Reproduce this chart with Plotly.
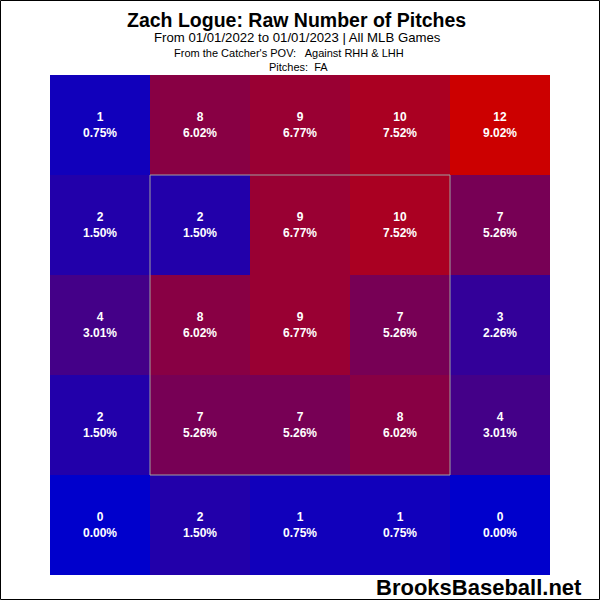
import plotly.graph_objects as go

counts = [
    [1, 8, 9, 10, 12],
    [2, 2, 9, 10, 7],
    [4, 8, 9, 7, 3],
    [2, 7, 7, 8, 4],
    [0, 2, 1, 1, 0],
]
pcts = [
    ["0.75%", "6.02%", "6.77%", "7.52%", "9.02%"],
    ["1.50%", "1.50%", "6.77%", "7.52%", "5.26%"],
    ["3.01%", "6.02%", "6.77%", "5.26%", "2.26%"],
    ["1.50%", "5.26%", "5.26%", "6.02%", "3.01%"],
    ["0.00%", "1.50%", "0.75%", "0.75%", "0.00%"],
]
cols = [0, 1, 2, 3, 4]
rows = [0, 1, 2, 3, 4]

title = "Zach Logue: Raw Number of Pitches"
sub1 = "From 01/01/2022 to 01/01/2023 | All MLB Games"
sub2 = "From the Catcher's POV:   Against RHH & LHH"
sub3 = "Pitches:  FA"

labels = [[f"{c}<br>{p}" for c, p in zip(rc, rp)] for rc, rp in zip(counts, pcts)]
font = "Liberation Sans, Arial"

fig = go.Figure(go.Heatmap(
    z=counts, x=cols, y=rows, text=labels, texttemplate="%{text}",
    textfont=dict(family=font, size=12, color="white", weight="bold"),
    colorscale=[[0, "#0000CC"], [1, "#CC0000"]], zmin=0, zmax=12,
    showscale=False, hoverinfo="skip", xgap=0, ygap=0,
))

W, H = 600, 600
L, R, T, B = 50, 50, 75, 25
plot_w = W - L - R
plot_h = H - T - B

def px_x(x):
    return (x - L) / plot_w

def px_y(y):
    return (H - B - y) / plot_h

fig.add_shape(type="rect", x0=0.5, x1=3.5, y0=0.5, y1=3.5, xref="x", yref="y",
              line=dict(color="#A0A0A0", width=1))
fig.add_shape(type="rect", x0=px_x(0.5), x1=px_x(599.5), y0=px_y(599.5), y1=px_y(0.5),
              xref="paper", yref="paper", line=dict(color="black", width=1), layer="above")

annots = [
    (f"<b>{title}</b>", 296, 20, 19.5),
    (sub1, 297, 38, 13.2),
    (sub2, 289, 53, 11),
    (sub3, 298, 67, 11),
]
for txt, xp, yp, size in annots:
    fig.add_annotation(text=txt, x=px_x(xp), y=px_y(yp), xref="paper", yref="paper",
                       showarrow=False, font=dict(family=font, size=size, color="black"),
                       xanchor="center", yanchor="middle")
fig.add_annotation(text="<b>BrooksBaseball.net</b>", x=px_x(584), y=px_y(587),
                   xref="paper", yref="paper", showarrow=False,
                   font=dict(family=font, size=22, color="black"),
                   xanchor="right", yanchor="middle")

fig.update_layout(
    width=W, height=H, margin=dict(l=L, r=R, t=T, b=B),
    paper_bgcolor="white", plot_bgcolor="white",
    xaxis=dict(visible=False, range=[-0.5, 4.5], fixedrange=True),
    yaxis=dict(visible=False, range=[4.5, -0.5], fixedrange=True),
)

fig.write_html("out.html", config={"displayModeBar": False},
               post_script="document.body.style.margin='0';document.body.style.overflow='hidden';")
